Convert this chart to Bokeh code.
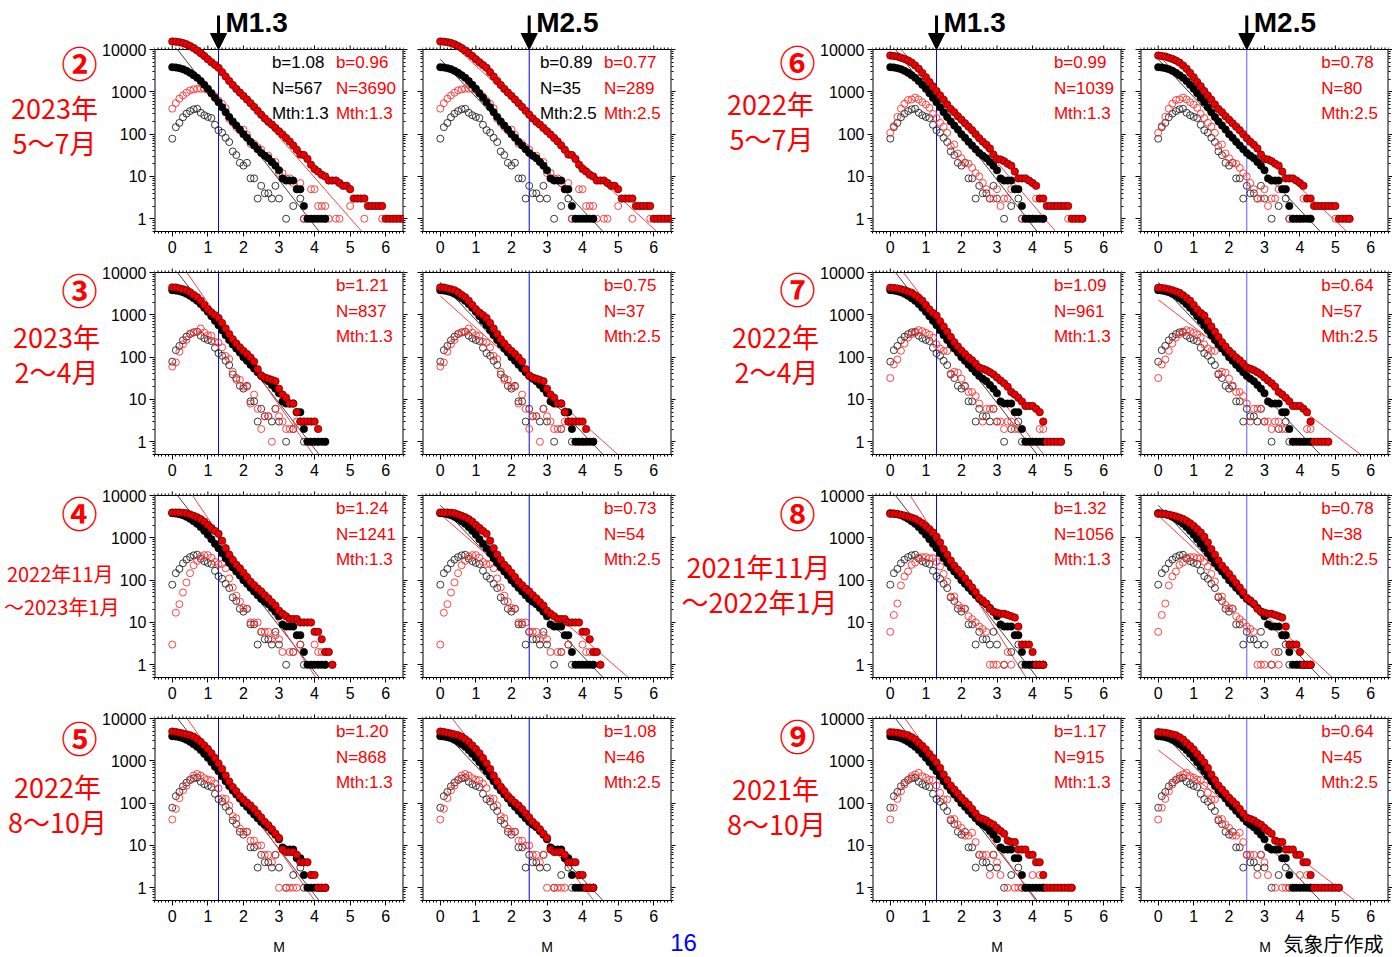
import math
from bokeh.plotting import figure
from bokeh.models import (Range1d, FixedTicker, LinearAxis, LogAxis, Label, Arrow,
                          NormalHead, PrintfTickFormatter, CustomJSTickFormatter)
from bokeh.layouts import row, column
from bokeh.core.properties import value
from bokeh.embed import file_html
from bokeh.resources import INLINE

# ---------------- data ----------------
MAG = [round(0.1 * i, 1) for i in range(66)]   # magnitude bins 0.0 .. 6.5
XT = [0, 1, 2, 3, 4, 5, 6]
YT = [1, 10, 100, 1000, 10000]

# reference period (black), same in every panel
BLACK_CUM = [3830, 3760, 3620, 3430, 3130, 2810, 2470, 2140, 1790, 1460,
             1180, 930, 720, 567, 430, 330, 255, 200, 160, 128,
             100, 82, 66, 54, 44, 36, 31, 27, 22, 18,
             14, 9, 8, 8, 8, 5, 5, 2, 1, 1,
             1, 1, 1, 1]
BLACK_OPEN = [78, 146, 184, 250, 305, 350, 385, 398, 320, 280,
              255, 240, 166, 124, 108, 82, 65, 39, 32, 21,
              18, 21, 9, 9, 3, 6, 4, 4, 3, 6,
              3, None, 1, None, 2, None, 3, 1, None, None,
              None, None, None, 1]
# period 2 : 2023/5-7
RED_CUM_2 = [15500, 15300, 14900, 14200, 13300, 12100, 10800, 9500, 8200, 7000,
             5900, 5000, 4300, 3690, 2900, 2300, 1800, 1450, 1170, 960,
             800, 660, 540, 440, 355, 289, 235, 195, 168, 140,
             117, 98, 81, 67, 54, 43, 33, 32, 26, 19,
             15, 13, 11, 10, 8, 8, 8, 7, 6, 6,
             5, 3, 3, 3, 3, 2, 2, 2, 2, 2,
             1, 1, 1, 1, 1, 1]
RED_OPEN_2 = [400, 540, 690, 820, 950, 1080, 1140, 1180, 1180, 1180,
              1110, 900, 780, 620, 520, 410, 230, 185, 146, 122,
              128, 96, 59, 59, 49, 43, 31, 31, 22, 22,
              12, 12, 9, 9, 7, 5, 7, 1, None, 5,
              5, 2, 2, 2, 1, None, 1, 1, None, None,
              2, None, None, None, 1, None, None, None, None, 1,
              None, None, None, None, None, 1]
# period 3 : 2023/2-4
RED_CUM_3 = [4450, 4400, 4200, 4000, 3800, 3400, 2950, 2600, 2150, 1700,
             1360, 1130, 980, 837, 640, 475, 350, 265, 210, 170,
             140, 118, 98, 78, 52, 37, 33, 31, 29, 27,
             18, 13, 11, 8, 8, 5, 3, 3, 3, 3,
             3, 2]
RED_OPEN_3 = [60, 75, 134, 200, 256, 360, 380, 400, 475, 380,
              330, 320, 230, 220, 170, 107, 90, 45, 29, 29,
              20, 20, 8, 13, 6, 2, 4, 4, 1, 6,
              4, 3, 2, 2, 2, 3, None, None, None, 1,
              1, 1]
# period 4 : 2022/11-2023/1
RED_CUM_4 = [3950, 3950, 3950, 3900, 3800, 3550, 3300, 3050, 2750, 2400,
             2000, 1700, 1450, 1241, 850, 570, 400, 300, 230, 190,
             150, 118, 92, 76, 63, 54, 44, 37, 30, 25,
             19, 16, 14, 12, 12, 12, 10, 10, 10, 10,
             6, 6, 4, 2, 2, 1]
RED_OPEN_4 = [3, 17, 27, 51, 88, 146, 225, 285, 360, 390,
              390, 340, 270, 240, 240, 190, 110, 67, 43, 31,
              22, 21, 10, 10, 10, 6, 6, 6, 4, 5,
              4, 2, None, 2, 2, None, 3, None, None, None,
              3, 2, 2, None, None, 1]
# period 5 : 2022/8-10
RED_CUM_5 = [4900, 4800, 4600, 4400, 4200, 4000, 3700, 3250, 2800, 2300,
             1900, 1500, 1160, 868, 640, 450, 325, 240, 190, 146,
             122, 102, 88, 72, 57, 46, 36, 30, 24, 19,
             15, 8, 7, 7, 7, 6, 4, 4, 4, 2,
             2, 1, 1, 1]
RED_OPEN_5 = [41, 73, 131, 200, 260, 360, 450, 490, 450, 390,
              360, 345, 290, 225, 130, 126, 88, 49, 44, 25,
              21, 21, 13, 13, 10, 10, 6, 6, 4, 6,
              1, None, 1, 1, 1, 1, None, None, None, 2,
              None, 1, None, 1]
# period 6 : 2022/5-7
RED_CUM_6 = [7200, 7000, 6800, 6400, 6000, 5500, 4900, 4200, 3500, 2800,
             2200, 1700, 1350, 1039, 820, 650, 500, 390, 330, 265,
             220, 180, 150, 124, 100, 80, 66, 56, 46, 33,
             26, 25, 23, 20, 18, 13, 9, 9, 9, 8,
             7, 6, 3, 3, 2, 2, 2, 2, 2, 2,
             2, 1, 1, 1, 1]
RED_OPEN_6 = [107, 155, 256, 400, 525, 640, 660, 730, 660, 570,
              500, 420, 300, 240, 185, 150, 107, 52, 57, 35,
              27, 21, 20, 16, 12, 10, 7, 5, 3, 3,
              5, 2, 3, 3, 5, 5, 5, 1, 1, 1,
              1, 3, None, 1, None, None, None, None, None, None,
              1, None, None, None, 1]
# period 7 : 2022/2-4
RED_CUM_7 = [4350, 4300, 4200, 4000, 3800, 3550, 3300, 2900, 2500, 2150,
             1700, 1340, 1100, 961, 700, 530, 400, 300, 225, 178,
             142, 118, 98, 84, 70, 57, 53, 49, 44, 39,
             33, 28, 24, 20, 15, 13, 11, 9, 7, 7,
             7, 6, 5, 3, 1, 1, 1, 1, 1]
RED_OPEN_7 = [32, 67, 88, 141, 210, 290, 350, 375, 435, 410,
              375, 340, 290, 200, 160, 140, 140, 41, 45, 43,
              31, 20, 15, 15, 12, 8, 3, 6, 6, 6,
              3, 3, 2, 3, 3, 2, 2, None, 1, None,
              1, 1, 2, 2, None, None, None, None, 1]
# period 8 : 2021/11-2022/1
RED_CUM_8 = [3700, 3700, 3650, 3500, 3350, 3200, 3000, 2800, 2500, 2200,
             1900, 1600, 1340, 1056, 780, 540, 400, 290, 220, 175,
             140, 110, 85, 67, 52, 38, 33, 28, 21, 18,
             17, 16, 16, 15, 14, 13, 8, 3, 3, 3,
             2, 1, 1, 1]
RED_OPEN_8 = [6, 15, 28, 75, 122, 160, 230, 260, 345, 350,
              350, 330, 330, 270, 210, 140, 93, 41, 41, 26,
              22, 21, 14, 12, 10, 8, 7, 6, 1, 1,
              1, None, 1, 2, 1, 5, 5, None, None, 1,
              1, 1, None, 1]
# period 9 : 2021/8-10
RED_CUM_9 = [4750, 4700, 4600, 4400, 4200, 4000, 3600, 3200, 2650, 2250,
             1850, 1450, 1170, 915, 680, 475, 350, 260, 210, 170,
             134, 111, 93, 73, 57, 45, 42, 39, 34, 31,
             26, 22, 19, 13, 12, 12, 8, 8, 8, 6,
             6, 4, 4, 2, 1, 1, 1, 1, 1, 1,
             1, 1]
RED_OPEN_9 = [41, 78, 126, 190, 275, 360, 435, 475, 520, 435,
              400, 360, 350, 260, 175, 122, 122, 42, 42, 31,
              26, 17, 17, 20, 12, 6, 6, 6, 2, 6,
              4, 2, None, 1, None, 1, 1, 1, 1, None,
              2, None, 2, 1, None, None, None, None, None, None,
              None, 1]

# Gutenberg-Richter fits shown in the panels
MTH = [1.3, 2.5]
BLACK_B = [1.08, 0.89]
BLACK_N = [567, 35]
RED_B_M13_LEFT = [0.96, 1.21, 1.24, 1.20]
RED_N_M13_LEFT = [3690, 837, 1241, 868]
RED_B_M25_LEFT = [0.77, 0.75, 0.73, 1.08]
RED_N_M25_LEFT = [289, 37, 54, 46]
RED_B_M13_RIGHT = [0.99, 1.09, 1.32, 1.17]
RED_N_M13_RIGHT = [1039, 961, 1056, 915]
RED_B_M25_RIGHT = [0.78, 0.64, 0.78, 0.64]
RED_N_M25_RIGHT = [80, 57, 38, 45]

CIRCLES_LEFT = ["②", "③", "④", "⑤"]
CIRCLES_RIGHT = ["⑥", "⑦", "⑧", "⑨"]
PERIOD1_LEFT = ["2023年", "2023年", "2022年11月", "2022年"]
PERIOD2_LEFT = ["5〜7月", "2〜4月", "〜2023年1月", "8〜10月"]
PERIOD1_RIGHT = ["2022年", "2022年", "2021年11月", "2021年"]
PERIOD2_RIGHT = ["5〜7月", "2〜4月", "〜2022年1月", "8〜10月"]

RED_CUM = [[RED_CUM_2, RED_CUM_3, RED_CUM_4, RED_CUM_5],
           [RED_CUM_6, RED_CUM_7, RED_CUM_8, RED_CUM_9]]
RED_OPEN = [[RED_OPEN_2, RED_OPEN_3, RED_OPEN_4, RED_OPEN_5],
            [RED_OPEN_6, RED_OPEN_7, RED_OPEN_8, RED_OPEN_9]]
RED_B = [[RED_B_M13_LEFT, RED_B_M25_LEFT], [RED_B_M13_RIGHT, RED_B_M25_RIGHT]]
RED_N = [[RED_N_M13_LEFT, RED_N_M25_LEFT], [RED_N_M13_RIGHT, RED_N_M25_RIGHT]]

# ---------------- styling / layout ----------------
FONT = "Liberation Sans"
JP = "Noto Sans CJK JP"
RED = "#ff0000"
X0, X1 = -0.5, 6.5
Y0, Y1 = 0.5, 10000
FW, FH = 249, 182
DEC = FH / math.log10(Y1 / Y0)
TOP_EXT = [49, 11, 11, 11]             # frame room above the 10000 line
B_BOT = 30
FIG_TOP = [0, 261, 484, 707]
FRAME_LEFT = [154, 422, 872, 1140]
B_END = 678
BOTTOM_H = 27

XMINOR = [round(-0.5 + 0.1 * i, 1) for i in range(71)]
YMINOR = [k * 10 ** e for e in range(-1, 4) for k in range(2, 10) if 0.5 <= k * 10 ** e <= 10000]


def style_axis(ax, labels):
    ax.major_tick_out = 5
    ax.major_tick_in = 0
    ax.minor_tick_out = 2
    ax.minor_tick_in = 0
    ax.major_tick_line_color = "black"
    ax.minor_tick_line_color = "black"
    ax.axis_line_color = "black"
    ax.major_label_text_font = FONT
    ax.major_label_text_color = "black"
    if labels:
        ax.major_label_text_font_size = "16px"
        ax.major_label_standoff = 3
    else:
        ax.formatter = CustomJSTickFormatter(code="return ' '")
        ax.major_label_text_font_size = "1px"
        ax.major_label_text_alpha = 0
        ax.major_label_standoff = 0


def pts(vals):
    xs = [MAG[i] for i, v in enumerate(vals) if v is not None]
    ys = [v for v in vals if v is not None]
    return xs, ys


def fit_line(b, n, mth):
    xs = max(0.0, mth - math.log10(Y1 / n) / b)
    xe = min(X1, mth + math.log10(n / Y0) / b)
    return [xs, xe], [n * 10 ** (-b * (xs - mth)), n * 10 ** (-b * (xe - mth))]


def text_fig(left, top, w, frame_h, bottom_border, items):
    """Transparent figure whose data coordinates are page pixels (y downward)."""
    p = figure(width=w, height=frame_h + bottom_border,
               x_range=Range1d(left, left + w), y_range=Range1d(top + frame_h, top),
               x_axis_type=None, y_axis_type=None, min_border_left=0, min_border_right=0,
               min_border_top=0, min_border_bottom=bottom_border,
               toolbar_location=None, output_backend="svg")
    p.outline_line_color = None
    p.background_fill_color = None
    p.border_fill_color = None
    for (x, y, t, size, color, font, align, bold) in items:
        p.text(x=[x], y=[y], text=[t], text_font=value(font), text_font_size=size,
               text_color=color, text_align=align, text_baseline="middle",
               text_font_style="bold" if bold else "normal")
    return p


def panel(r, c):
    grp = 0 if c < 2 else 1
    k = c % 2
    mth = MTH[k]
    if c == 0:
        bl, br = FRAME_LEFT[0], 10
    elif c == 1:
        bl, br = FRAME_LEFT[1] - (FRAME_LEFT[0] + FW + 10), B_END - (FRAME_LEFT[1] + FW)
    elif c == 2:
        bl, br = FRAME_LEFT[2] - B_END, 10
    else:
        bl, br = FRAME_LEFT[3] - (FRAME_LEFT[2] + FW + 10), 3
    fh = FH + TOP_EXT[r]
    ytop = Y1 * 10 ** (TOP_EXT[r] / DEC)
    w = bl + FW + br
    h = fh + B_BOT
    margin = (0, 0, 0, -bl) if c in (0, 2) else None
    p = figure(width=w, height=h, x_range=Range1d(X0, X1), y_range=Range1d(Y0, ytop),
               y_axis_type="log", min_border_left=bl, min_border_right=br,
               min_border_top=0, min_border_bottom=B_BOT,
               toolbar_location=None, output_backend="svg", margin=margin)
    p.grid.visible = False
    p.background_fill_color = "white"
    p.border_fill_color = None
    p.outline_line_color = None

    xa = p.xaxis[0]
    xa.ticker = FixedTicker(ticks=XT, minor_ticks=XMINOR)
    style_axis(xa, True)
    xa.major_label_standoff = 4
    ya = p.yaxis[0]
    ya.ticker = FixedTicker(ticks=YT, minor_ticks=YMINOR)
    if c in (0, 2):
        ya.formatter = PrintfTickFormatter(format="%d")
    style_axis(ya, c in (0, 2))
    ya.axis_line_color = None
    ra = LogAxis(ticker=FixedTicker(ticks=YT, minor_ticks=YMINOR))
    style_axis(ra, False)
    ra.major_tick_out = 4
    ra.axis_line_color = None
    p.add_layout(ra, "right")

    # frame box (top edge at the 10000 line) and top ticks
    p.segment(x0=[X0], y0=[Y1], x1=[X1], y1=[Y1], line_color="black", line_width=1)
    p.segment(x0=[X0, X1], y0=[Y0, Y0], x1=[X0, X1], y1=[Y1, Y1], line_color="black", line_width=2)
    tx = XMINOR
    tl = [Y1 * 10 ** ((4 if abs(t - round(t)) < 1e-6 else 2) / DEC) for t in tx]
    p.segment(x0=tx, y0=[Y1] * len(tx), x1=tx, y1=tl, line_color="black", line_width=1)
    if r == 0:
        p.add_layout(Arrow(x_start=mth, y_start=Y1 * 10 ** (34 / DEC), x_end=mth, y_end=Y1,
                           line_width=3, line_color="black",
                           end=NormalHead(size=16, fill_color="black", line_color="black")))
        p.add_layout(Label(x=mth, y=FH + 27, x_units="data", y_units="screen", x_offset=7,
                           text=f"M{mth}", text_font=FONT, text_font_size="28px",
                           text_font_style="bold", text_color="black", text_baseline="middle"))

    # threshold line
    p.segment(x0=[mth], y0=[Y0], x1=[mth], y1=[Y1],
              line_color="#0000ff" if c != 3 else "#5a5aff", line_width=1)
    # fits
    bx, by = fit_line(BLACK_B[k], BLACK_N[k], mth)
    p.line(bx, by, line_color="#404040", line_width=1)
    rb = RED_B[grp][k][r]
    rn = RED_N[grp][k][r]
    rx, ry = fit_line(rb, rn, mth)
    p.line(rx, ry, line_color="#ff4040", line_width=1)

    # data
    x, y = pts(BLACK_OPEN)
    p.scatter(x, y, marker="circle", size=7, fill_color=None, line_color="#222222", line_width=0.9)
    x, y = pts(RED_OPEN[grp][r])
    p.scatter(x, y, marker="circle", size=7, fill_color=None, line_color="#ff3030", line_width=0.9)
    x, y = pts(BLACK_CUM)
    p.scatter(x, y, marker="circle", size=7.5, fill_color="black", line_color="black", line_width=0.5)
    x, y = pts(RED_CUM[grp][r])
    p.scatter(x, y, marker="circle", size=7.5, fill_color="#ee0000", line_color="#400000", line_width=0.6)

    # statistics text
    ys = [FH - 13, FH - 39, FH - 64]
    red_txt = [f"b={rb:.2f}", f"N={rn}", f"Mth:{mth}"]
    for yy, t in zip(ys, red_txt):
        p.add_layout(Label(x=4.6, y=yy, x_units="data", y_units="screen", text=t,
                           text_font=FONT, text_font_size="17px", text_color=RED,
                           text_baseline="middle"))
    if grp == 0 and r == 0:
        blk_txt = [f"b={BLACK_B[k]:.2f}", f"N={BLACK_N[k]}", f"Mth:{mth}"]
        for yy, t in zip(ys, blk_txt):
            p.add_layout(Label(x=2.8, y=yy, x_units="data", y_units="screen", text=t,
                               text_font=FONT, text_font_size="17px", text_color="black",
                               text_baseline="middle"))
    return p


def left_titles(r):
    cy = [61, 288, 511, 736][r]
    items = [(79, cy, CIRCLES_LEFT[r], "36px", RED, JP, "center", True)]
    if r == 2:
        items.append((113, 573, PERIOD1_LEFT[r], "20px", RED, JP, "right", False))
        items.append((119, 606, PERIOD2_LEFT[r], "20px", RED, JP, "right", False))
    else:
        cx = [54, 56, 0, 57][r]
        y1 = [107, 336, 0, 786][r]
        items.append((cx, y1, PERIOD1_LEFT[r], "27px", RED, JP, "center", False))
        items.append((cx, y1 + 35, PERIOD2_LEFT[r], "27px", RED, JP, "center", False))
    return text_fig(0, FIG_TOP[r], FRAME_LEFT[0], FH + TOP_EXT[r], B_BOT, items)


def right_titles(r):
    cy = [60, 287, 511, 734][r]
    cx = [770, 775, 758, 775][r]
    y1 = [103, 336, 566, 788][r]
    items = [(797, cy, CIRCLES_RIGHT[r], "36px", RED, JP, "center", True),
             (cx, y1, PERIOD1_RIGHT[r], "27px", RED, JP, "center", False),
             (cx + 1, y1 + 35, PERIOD2_RIGHT[r], "27px", RED, JP, "center", False)]
    return text_fig(B_END, FIG_TOP[r], FRAME_LEFT[2] - B_END, FH + TOP_EXT[r], B_BOT, items)


rows = []
for r in range(4):
    rows.append(row(left_titles(r), panel(r, 0), panel(r, 1),
                    right_titles(r), panel(r, 2), panel(r, 3), spacing=0))

bottom_items = [(FRAME_LEFT[c] + FW / 2, 946, "M", "14px", "black", FONT, "center", False) for c in range(4)]
bottom_items.append((683, 942, "16", "24px", "#0000ff", FONT, "center", False))
bottom_items.append((1283, 943, "気象庁作成", "20px", "black", JP, "left", False))
bottom = text_fig(0, 930, 1392, BOTTOM_H, 0, bottom_items)
rows.append(bottom)

layout = column(*rows, spacing=0)
open("out.html", "w").write(file_html(layout, INLINE, title="b-value"))
